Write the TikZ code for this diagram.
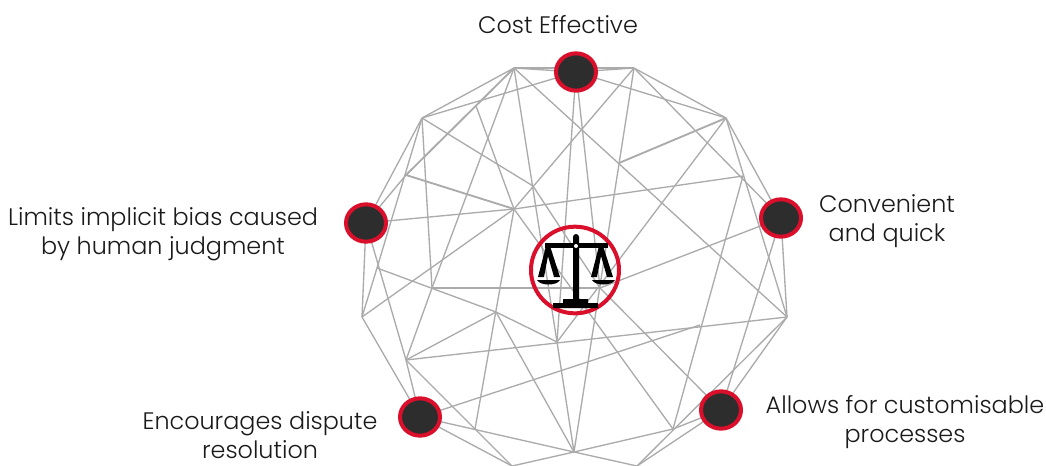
\documentclass[tikz,border=0pt]{standalone}
\usepackage{fontspec}
\setmainfont{Poppins Light}
\usetikzlibrary{backgrounds,shapes.geometric}
\definecolor{linkgray}{HTML}{ABABAB}
\definecolor{dotred}{HTML}{DA0F2B}
\definecolor{dotdark}{HTML}{2D2D2D}
\definecolor{labelblack}{HTML}{1A1A1A}
\tikzset{
  link/.style={draw=linkgray,line width=1pt},
  linkbold/.style={draw=linkgray,line width=1.4pt},
  reddot/.style={ellipse,draw=dotred,fill=dotdark,line width=3pt,inner sep=0pt,outer sep=0pt,minimum width=30pt,minimum height=28pt},
  redring/.style={ellipse,draw=dotred,line width=3pt,inner sep=0pt,outer sep=0pt,minimum width=66pt,minimum height=65pt},
  caption/.style={inner sep=0pt,align=center,text=labelblack,font=\fontsize{17.9pt}{22pt}\selectfont}
}
\begin{document}
\begin{tikzpicture}[x=0.75pt,y=-0.75pt]
\useasboundingbox (0,0) rectangle (1046,465);
\node[reddot] (dotT) at (576,72) {};
\node[reddot] (dotL) at (366,223) {};
\node[reddot] (dotR) at (781,218) {};
\node[reddot] (dotBL) at (420,417) {};
\node[reddot] (dotBR) at (721,410) {};
\node[redring] (ring) at (575,270) {};
\foreach \n/\x/\y in {a/514/68,b/422/118,c/362/317,d/406/360,e/512/466,f/634/68,g/726/118,h/787/317,i/637/466,
  p1/476/106,p2/406/175,p3/514/209,p4/619/163,p5/743/176,p6/377/268,p7/432/288,p8/496/312,p9/557/342,
  p10/475/429,p11/574/452,p12/600/288,p13/719/255,p14/700/325,p15/673/429,v/533/186}
  \coordinate (\n) at (\x,\y);
\begin{scope}[on background layer]
\foreach \s/\t in {a/f,a/dotT,f/dotT,a/b,f/g,b/dotL,g/dotR,dotL/c,dotR/h,c/dotBL,h/dotBR,dotBL/e,dotBR/i,
  p2/dotL,a/p7,a/p9,a/p13,b/p6,b/p7,b/v,v/p12,dotT/b,dotT/g,dotT/p9,dotT/p12,f/p3,f/p11,f/dotR,g/h,
  p5/p15,p5/p3,p3/dotL,p1/p3,p3/c,p3/p15,p3/p10,g/p9,p12/dotBR,p7/p12,p12/dotR,p13/h,p6/p8,p8/p9,p6/c,
  dotL/d,d/p7,d/p8,d/h,d/e,d/dotBL,dotBL/p11,dotBL/p14,p8/p11,p9/p11,e/p11,i/p11,p11/p15,p15/dotBR,i/h,dotR/dotBR}
  \draw[link] (\s) -- (\t);
\foreach \s/\t in {a/p2,p2/p3,p4/g} \draw[linkbold] (\s) -- (\t);
\end{scope}
% scales
\fill (573,237) arc (180:360:3) -- (579,299) -- (588,299) -- (588,303) -- (598,303) -- (598,308) -- (553,308) -- (553,303) -- (563,303) -- (563,299) -- (573,299) -- cycle;
\fill (545,243) -- (608,243) -- (608,248) -- (545,248) -- cycle;
\fill[white] (576,246) circle (2);
\foreach \o in {0,1} {
  \fill (546+53*\o,246) -- (550+53*\o,246) -- (560+53*\o,277) -- (554+53*\o,277) -- (548+53*\o,256) -- (544+53*\o,277) -- (538+53*\o,277) -- cycle;
  \fill (537+55*\o,280) -- (560+55*\o,280) .. controls (557+55*\o,286) and (540+55*\o,286) .. (537+55*\o,280) -- cycle;
}
\node[caption] (costlabel) at (558,25) {Cost Effective};
\node[caption] (quicklabel) at (887,221) {Convenient\\and quick};
\node[caption] (biaslabel) at (163,234) {Limits implicit bias caused\\by human judgment};
\node[caption] (disputelabel) at (260,435) {Encourages dispute\\resolution};
\node[caption] (processlabel) at (905,422) {Allows for customisable\\processes};
\end{tikzpicture}
\end{document}
